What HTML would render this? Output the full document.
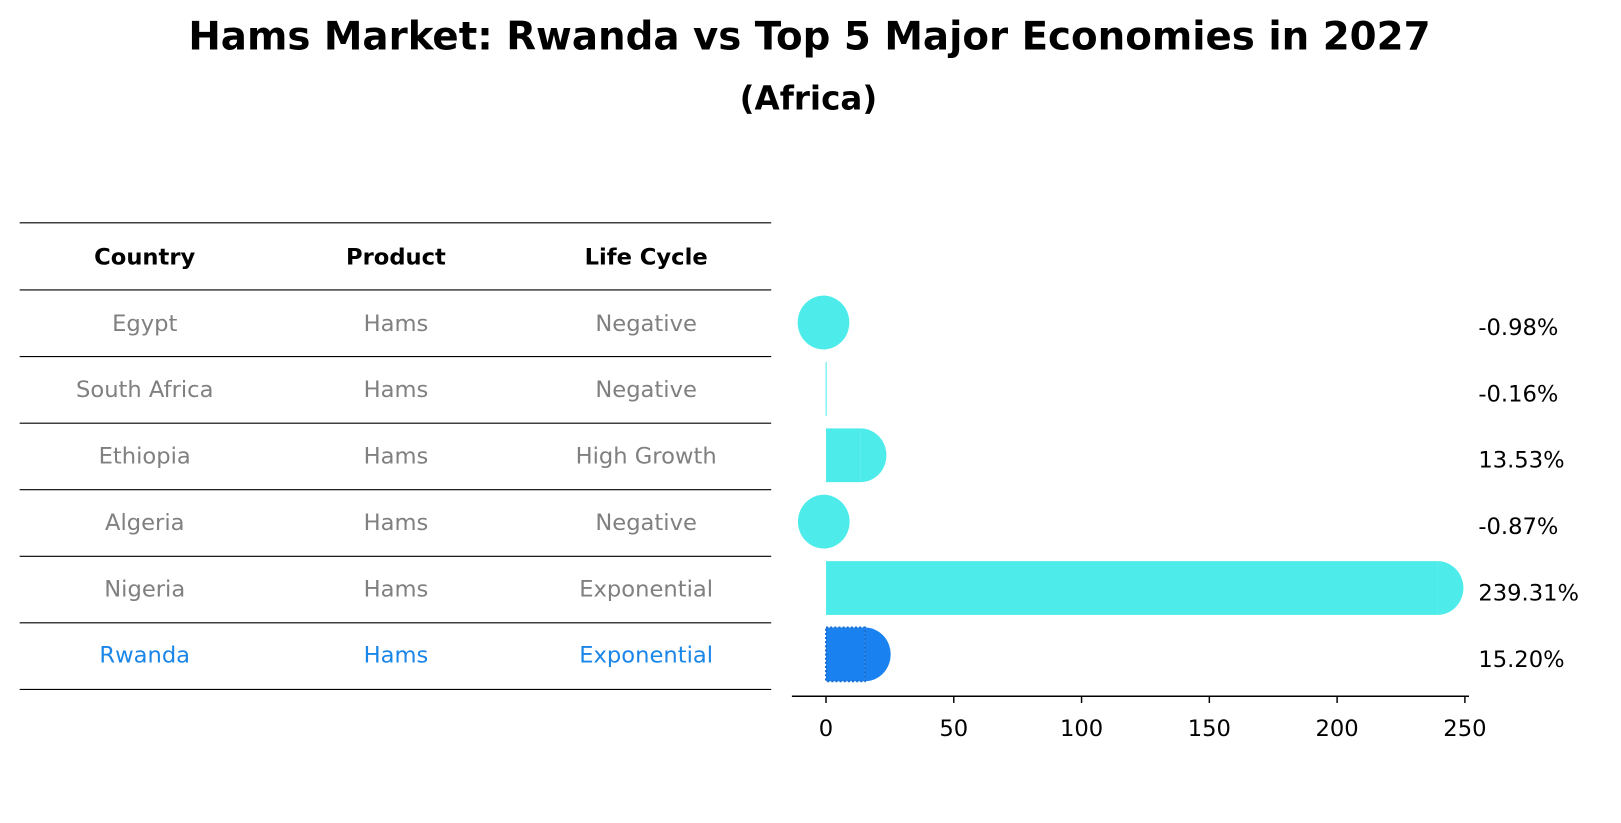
<!DOCTYPE html>
<html><head><meta charset="utf-8"><style>
body{margin:0;background:#fff;}
svg{display:block;font-family:"DejaVu Sans","Liberation Sans",sans-serif;}
</style></head><body>
<svg id="chart" width="1621" height="823" viewBox="0 0 1621 823">
<g transform="scale(1.0338)">
<text x="783" y="48" text-anchor="middle" font-size="37.5" font-weight="bold">Hams Market: Rwanda vs Top 5 Major Economies in 2027</text>
<text x="782" y="106" text-anchor="middle" font-size="31.5" font-weight="bold">(Africa)</text>
<g id="table"></g>
<g id="bars"></g>
</g>
</svg>
<script>
const countries=["Egypt","South Africa","Ethiopia","Algeria","Nigeria","Rwanda"];
const products=["Hams","Hams","Hams","Hams","Hams","Hams"];
const lifeCycles=["Negative","Negative","High Growth","Negative","Exponential","Exponential"];
const growth=[-0.98,-0.16,13.53,-0.87,239.31,15.20];
const valueLabels=["-0.98%","-0.16%","13.53%","-0.87%","239.31%","15.20%"];
const xTicks=[0,50,100,150,200,250];
const highlight="Rwanda";

const NS="http://www.w3.org/2000/svg";
function mk(tag,attrs,parent,text){const e=document.createElementNS(NS,tag);for(const k in attrs)e.setAttribute(k,attrs[k]);if(text!==undefined)e.textContent=text;parent.appendChild(e);return e;}
const rowY=i=>312+i*64.2;
const xs=v=>799+v*(618/250);
const FS=26.7;

const tbl=document.getElementById('table');
const colX=[140,383,625];
const heads=["Country","Product","Life Cycle"];
heads.forEach((h,j)=>{const t=mk('text',{x:colX[j],y:256,'text-anchor':'middle','font-size':FS*0.82,'font-weight':'bold'},tbl,h);

});
for(let k=0;k<=countries.length+1;k++){const y=k==0?215.5:280.5+(k-1)*64.4;
const l=mk('line',{x1:19,x2:746,y1:y,y2:y,stroke:'#000','stroke-width':1.1},tbl);

}
countries.forEach((c,i)=>{const col=c===highlight?'#1a86e8':'#808080';
[c,products[i],lifeCycles[i]].forEach((v,j)=>{const t=mk('text',{x:colX[j],y:rowY(i)+8,'text-anchor':'middle','font-size':FS*0.82,fill:col},tbl,v);

});});

const bars=document.getElementById('bars');
const h=52,rx=25;
growth.forEach((v,i)=>{const y=rowY(i);const col=countries[i]===highlight?'#1982f0':'#4deceb';
const g=mk('g',{},bars);


const x0=xs(0),x1=xs(v);
mk('rect',{x:Math.min(x0,x1),y:y-h/2,width:Math.max(1,Math.abs(x1-x0)),height:h,fill:col},g);
if(Math.abs(v)>0.5){
 if(v>0)mk('path',{d:`M${x1},${y-h/2} A${rx},${h/2} 0 0 1 ${x1},${y+h/2} Z`,fill:col},g);
 else mk('ellipse',{cx:x1,cy:y,rx:rx,ry:h/2,fill:col},g);}
if(countries[i]===highlight)mk('rect',{x:x0,y:y-h/2,width:x1-x0,height:h,fill:'none',stroke:'#1a6fd0','stroke-width':2,'stroke-dasharray':'2,2'},g);
const t=mk('text',{x:1430,y:y+12,'font-size':FS*0.82},bars,valueLabels[i]);

});
const ax=mk('line',{x1:766,x2:1421,y1:673.5,y2:673.5,stroke:'#000','stroke-width':1.4},bars);


xTicks.forEach(t=>{const x=xs(t);
const tk=mk('line',{x1:x,x2:x,y1:673,y2:680,stroke:'#000','stroke-width':1.4},bars);


const lb=mk('text',{x:x,y:712,'text-anchor':'middle','font-size':FS*0.82},bars,String(t));

});
</script>
</body></html>
